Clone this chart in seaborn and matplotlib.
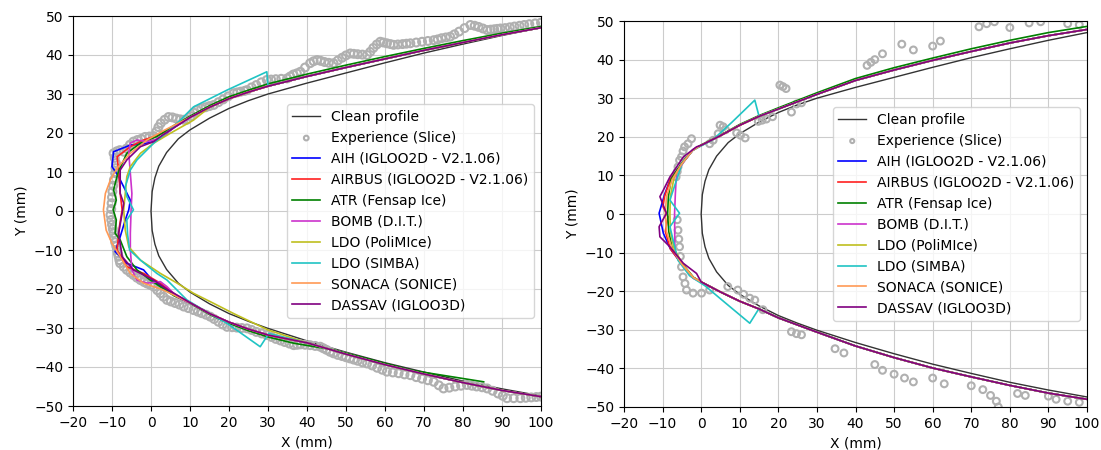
import matplotlib
matplotlib.use("Agg")
import matplotlib.pyplot as plt
import seaborn as sns

# clean airfoil leading edge, upper half (from trailing side to the nose) and lower half
clean_up_x = [100, 90, 80, 70, 60, 50, 40, 30, 25, 20, 15, 10, 7, 4, 2, 1, 0.3, 0]
clean_up_y = [47, 45, 42.8, 40.5, 38, 35.4, 32.8, 30, 28.3, 26.3, 23.8, 20.8, 18.5, 15, 11.5, 8.5, 5, 0]
clean_lo_x = [0.3, 1, 2, 4, 7, 10, 15, 20, 25, 30, 40, 50, 60, 70, 80, 90, 100]
clean_lo_y = [-5, -8.5, -11.5, -15, -18.5, -20.8, -23.8, -26.3, -28.3, -30.1, -33.3, -36.2, -38.9,
              -41.3, -43.6, -45.6, -47.4]

labels = ["AIH (IGLOO2D - V2.1.06)", "AIRBUS (IGLOO2D - V2.1.06)", "ATR (Fensap Ice)",
          "BOMB (D.I.T.)", "LDO (PoliMIce)", "LDO (SIMBA)", "SONACA (SONICE)", "DASSAV (IGLOO3D)"]
colors = ["#0000ff", "#ff2020", "#008000", "#cc33cc", "#bfbf1f", "#20c4c4", "#ff9955", "#800080"]

# ---- case 1 (left): experimental slice ----
exp1_up_x = [-10.2, -10.1, -10, -9.9, -9.7, -9.5, -9.2, -9.1, -9.0, -9.3, -9.6, -8.8, -8, -7, -6.3,
             -5.4, -4.5, -3.5, -2.5, -1.5, -0.4, 0.7, 1.4, 1.9, 2.5, 3.5, 4.5, 5.5, 6.5, 7.5, 8.4, 9.2,
             10.2, 11, 11.8, 12.9, 14, 15, 16.1, 17.3, 18.5, 19.8, 21.2, 22.1, 23, 24, 24.6, 25.8, 27,
             28.3, 29.7, 30.8, 32, 33.4, 34.9, 35.7, 36.5, 37.4, 38.3, 39.5, 40.8, 41.7, 42.6, 43.5,
             44.5, 45.6, 46.8, 47.9, 49, 50, 51.1, 52, 53, 54.2, 55.4, 56.2, 57, 57.9, 58.8, 59.6, 60.5,
             61.4, 62.2, 63.3, 64.5, 65.5, 66.5, 68, 69.5, 71, 72.5, 73.5, 74.5, 75.6, 76.7, 77.8, 79,
             80.4, 81.9, 83, 84, 85.1, 86.2, 87.1, 88, 88.8, 89.6, 90.8, 92, 93.2, 94.5, 95.7, 97, 98.5,
             100]
exp1_up_y = [0.5, 2, 3.5, 5, 6.5, 8, 9.7, 11, 12.3, 13.6, 14.8, 15.3, 15.6, 15.2, 16, 17, 17.8, 18.2,
             18.5, 19, 19.1, 19.2, 20.4, 21.5, 22.5, 23.4, 24.1, 24, 23.7, 23.5, 23.4, 23.4, 24.3, 25.2,
             25.9, 26.3, 26.6, 26.9, 27.2, 27.9, 28.6, 29.4, 30.2, 30.4, 30.6, 30.8, 31.0, 31.7, 32.3,
             33, 33.6, 33.7, 33.8, 33.9, 34.0, 34.5, 35, 35.3, 35.7, 36.8, 37.9, 38.4, 38.7, 38.5, 38.2,
             38, 37.9, 38.6, 39.3, 39.9, 40.4, 40.3, 40.2, 40.1, 40.0, 40.8, 41.8, 42.7, 43.4, 43.2, 43,
             42.8, 42.6, 42.7, 42.8, 42.9, 43.0, 43.2, 43.4, 43.6, 43.8, 44, 44.3, 44.5, 44.7, 45.3, 46,
             46.9, 47.7, 47.5, 47.2, 46.8, 46.4, 46.5, 46.6, 46.7, 46.8, 46.9, 47.1, 47.3, 47.5, 47.7,
             47.9, 48.1, 48.3]
exp1_lo_x = [-10.4, -10.2, -10, -9.8, -9.6, -9.4, -9.2, -8.9, -8.7, -8.5, -8.3, -8.1, -7.9, -7, -6.2,
             -5.3, -4.5, -3.6, -2.7, -1.8, -1, -0.1, 0.7, 1.6, 2.4, 3.2, 4.1, 5.1, 6.2, 7.3, 8.4, 9.6,
             10.9, 12, 13, 14.1, 15.2, 16.2, 17.3, 18.4, 19.5, 20.8, 22, 23.3, 24.6, 25.8, 27, 28.4,
             29.7, 30.9, 32, 33.2, 34.3, 35.5, 36.6, 37.5, 38.3, 39.5, 40.8, 42.1, 43.4, 44.2, 45, 45.9,
             46.8, 47.9, 49, 50, 51, 52, 53, 54.2, 55.4, 56.7, 58, 59.3, 60.5, 62, 63.5, 65, 66.5, 68,
             69.5, 71, 72.5, 73.8, 75.0, 76.5, 78, 79.5, 81.0, 82.3, 83.5, 84.9, 86.2, 87.6, 89, 90.2,
             91.3, 93, 94.7, 96.1, 97.5, 98.8, 100]
exp1_lo_y = [-1, -2.3, -3.5, -4.6, -5.7, -6.9, -8, -9, -10.0, -10.9, -11.7, -12.6, -13.4, -14.3, -15.1,
             -15.8, -16.4, -17.1, -17.7, -18.2, -18.6, -19, -19.4, -20.3, -21.1, -22, -22.8, -23.2,
             -23.6, -24, -24.5, -24.9, -25.4, -25.8, -26.2, -26.6, -27.1, -27.7, -28.4, -29.1, -29.7,
             -29.8, -29.9, -30, -30.1, -30.5, -31, -31.4, -31.8, -32.3, -32.8, -33.2, -33.6, -34, -34.4,
             -34.3, -34.2, -34.3, -34.4, -34.6, -34.8, -35.2, -35.6, -36.1, -36.5, -36.9, -37.2, -37.5,
             -37.8, -38.1, -38.4, -38.8, -39.1, -39.6, -40.2, -40.7, -41.2, -41.4, -41.6, -41.9, -42.1,
             -42.6, -43, -43.4, -43.8, -44.7, -45.5, -45.3, -45, -44.8, -44.6, -44.8, -45, -45.2, -45.5,
             -46.1, -46.8, -47.4, -48.0, -48.0, -48.0, -47.9, -47.8, -47.7, -47.6]

# ---- case 1: ice shapes (aft parts shared, noses per code) ----
up1_x = [100, 90, 80, 70, 60, 50, 40, 30, 25, 20, 15, 10]
up1_y = [47, 45.2, 43.2, 41.2, 39, 36.8, 34.5, 32, 30.5, 28.8, 26.6, 24]
low1_x = [10, 15, 20, 25, 30, 40, 50, 60, 70, 80, 90, 100]
low1_y = [-23.5, -26.3, -28.5, -30.3, -31.8, -33.8, -36.7, -39.4, -41.8, -44, -46, -47.6]
atr_up1_y = [47.3, 45.6, 43.7, 41.7, 39.6, 37.4, 35.1, 32.6, 31, 29.3, 27, 24.3]
atr_low1_x = [10, 15, 20, 25, 30, 36.6, 46.8, 66.5, 85.3]
atr_low1_y = [-23.6, -26.5, -28.8, -30.7, -32.3, -33.9, -35.6, -40.8, -43.8]

nose1_x = [
    [6, 2.4, 0.7, -2, -5.3, -9.6, -10, -8.3, -7.9, -5.3, -5.7, -6.6, -7.9, -9.2, -6.2, -1.9, 0.3, 3, 6],
    [6, 2, -1.9, -5.3, -8.7, -8.3, -7.9, -7.4, -8.1, -8.7, -6.2, -1.9, 2.4, 6],
    [6, 1.5, -2.7, -6.2, -8.5, -9.6, -8.9, -9.7, -8.9, -9.2, -7.9, -6.2, -3.6, -0.2, 3, 6],
    [6, 2.4, -1.0, -3.6, -5.3, -5.7, -5.3, -4.9, -5.1, -5.3, -5.3, -4.9, -3.6, -1.0, 2.4, 4.1, 6.7, 9],
    [10.9, 4.9, 0.7, -2.7, -5.3, -6.2, -6.6, -7.0, -6.6, -5.7, -2.7, 2.4, 6.7, 10.9, 16.1, 21.2, 30],
    [29.7, 19.5, 10.9, 5.8, 0.7, -3.6, -5.3, -6.6, -6.2, -4.5, -6.2, -6.0, -5.5, -2.7, 1.5, 4.1, 9.2,
     13.5, 19.5, 28.0, 30.2],
    [3, -1.0, -5.3, -8.7, -10.4, -11.7, -12.2, -11.5, -10.0, -7.9, -5.3, -1.9, 3],
    [3, 0.7, -2.7, -6.2, -7.9, -7.9, -7.0, -7.4, -8.3, -7.4, -4.5, 0.7, 4],
]
nose1_y = [
    [21.5, 18.6, 17.8, 17.2, 16.9, 15.2, 11.4, 8.8, 8.0, 2.8, 0.3, -2.3, -6.6, -10.4, -13.4, -15.1, -17.7, -19.5, -21.5],
    [21.5, 19.5, 18.2, 16.5, 13.9, 10.5, 4.5, 0.3, -4.0, -10.0, -14.3, -16.0, -18.5, -21.3],
    [22, 19.1, 17.4, 14.8, 9.7, 5.4, 2.8, 0.3, -2.3, -5.7, -7.4, -11.7, -15.1, -17.7, -19.8, -21.8],
    [21.5, 18.6, 17.8, 18.2, 17.4, 14.8, 9.7, 4.5, 0.3, -5.7, -10.0, -15.1, -17.7, -18.5, -18.1, -19.4, -22.0, -23.2],
    [23.3, 19.9, 17.4, 14.8, 11.4, 8.8, 4.5, 0.3, -4.9, -9.2, -12.6, -16.0, -18.5, -21.1, -23.7, -26.3, -30.5],
    [35.7, 31.0, 26.7, 21.6, 17.4, 13.1, 10.5, 6.2, 3.7, 0.3, -2.3, -6, -10, -12.6, -16.0, -17.7, -22.8,
     -25.4, -28.8, -34.8, -31.4],
    [20.5, 18.2, 14.8, 11.0, 8.0, 4.5, 0.3, -4.9, -8.3, -11.7, -16.0, -18.5, -20.2],
    [19.5, 17.8, 16.5, 13.1, 10.5, 4.5, 2.0, -0.6, -5.7, -11.7, -15.1, -17.7, -20],
]

# ---- case 2 (right): experimental slice ----
exp2_up_x = [-6.5, -6.2, -6.0, -5.6, -5.1, -4.7, -4.3, -3.4, -2.5, 2.2, 3.1, 4.4, 4.9, 5.7, 6.3, 9.2,
             10.2, 11.4, 14.8, 15.8, 16.9, 18.5, 20.4, 21.2, 22, 23.4, 24.7, 26, 43, 44, 45, 47, 52, 55,
             60, 62, 72, 74, 76, 80, 85, 88, 95, 98]
exp2_up_y = [9.6, 11, 12.2, 13.9, 14.8, 16.3, 17.4, 18.2, 19.5, 18.2, 19.1, 20.8, 23.0, 22.6, 21.8,
             21.0, 20.4, 19.7, 24.0, 24.3, 24.6, 25.2, 33.4, 33, 32.5, 26.4, 28.5, 28.8, 38.5, 39.3, 40,
             41.5, 44, 42.5, 43.5, 44.8, 48.5, 49.3, 49.8, 48.3, 49.5, 49.8, 49.3, 49]
exp2_lo_x = [-6.2, -6.0, -5.8, -5.6, -5.4, -5.1, -4.7, -4.2, -3.8, -2.1, 0.1, 2.2, 6.9, 9.5, 11, 12.6,
             13.9, 16.0, 23.4, 24.7, 26.0, 34.7, 37, 45, 47, 50, 52.7, 55, 60, 63, 70, 73, 75, 76.5, 77,
             82, 84, 90, 92, 95, 98]
exp2_lo_y = [-1.5, -4.2, -6.5, -8.5, -11, -13.7, -16.3, -18, -19.7, -20.5, -20.5, -19.7, -18.8, -19.7,
             -20.8, -21.8, -22.3, -24.8, -30.5, -31, -31.3, -34.9, -36, -39, -40.5, -41.5, -42.5, -43.5,
             -42.5, -44, -44.5, -45.5, -47, -48.5, -50, -46.5, -47, -47.2, -48, -48.5, -48.8]

# ---- case 2: ice shapes ----
up2_x = [100, 90, 80, 70, 60, 50, 40, 30, 20, 15, 10, 5, 0]
up2_y = [47.8, 46.2, 44.3, 42.1, 39.8, 37.3, 34.6, 31, 27.2, 25.3, 23, 20.3, 17.8]
low2_x = [0, 5, 10, 15, 20, 30, 40, 50, 60, 70, 80, 90, 100]
low2_y = [-17.6, -20.2, -22.6, -24.6, -26.9, -30.6, -34.2, -37.2, -39.9, -42.2, -44.4, -46.4, -48]
atr_up2_y = [48.6, 47, 45, 42.8, 40.4, 37.9, 35.1, 31.4, 27.5, 25.5, 23.2, 20.4, 17.9]

nose2_x = [
    [-2.2, -5, -8, -9.5, -10.9, -9.8, -8, -5, -2],
    [-2.2, -5, -8, -9.5, -9.9, -8.6, -9.3, -8, -5, -2],
    [-2.2, -5, -7.8, -8.5, -8.7, -8.4, -7.5, -4.8, -2],
    [-2, -4.5, -6.4, -6.7, -6.9, -6.8, -4.5, -2],
    [-2.2, -5, -7, -8, -8.1, -8, -7, -4.8, -2],
    [13.9, 8, 3, -2.2, -5, -8.1, -5.6, -8.1, -6, -3, 1, 6, 12.6, 14.8],
    [-2.2, -5, -7.5, -9, -9.3, -9, -7.5, -5, -2],
    [-1.2, -4.6, -8.1, -9.8, -10.7, -9.0, -10.9, -10.7, -8.1, -4.6, -1.2],
]
nose2_y = [
    [16.5, 13, 9, 5, 0.2, -5, -9, -13, -16.5],
    [16.5, 13, 9, 4.5, 1.9, -0.7, -4.5, -9, -13, -16.5],
    [16.6, 13.2, 9, 4.5, 0, -4.5, -9, -13, -16.4],
    [16.8, 13.5, 10.5, 5, 0, -10.2, -13.5, -16.7],
    [16.5, 13, 9.5, 4.5, 0, -4.5, -9, -13, -16.5],
    [29.5, 23.8, 19.2, 16.5, 13, 3.6, 0.2, -3.3, -12, -16, -18.6, -22.8, -28.3, -24.8],
    [16.5, 13, 9, 4.5, 0, -4.5, -9, -13, -16.5],
    [17.4, 14.8, 9.6, 6.2, 4.5, 0.2, -3.3, -5.9, -8.5, -12.8, -15.4],
]


def join(nx, ny, ux, uy, lx, ly):
    # upper tail (aft part beyond the nose), nose, lower tail
    xs = [a for a in ux if a > nx[0]]
    ys = [b for a, b in zip(ux, uy) if a > nx[0]]
    xs2 = [a for a in lx if a > nx[-1]]
    ys2 = [b for a, b in zip(lx, ly) if a > nx[-1]]
    return xs + nx + xs2, ys + ny + ys2


fig = plt.figure(figsize=(11.01, 4.5), dpi=100)
ax1 = fig.add_axes([73 / 1101, 1 - 406 / 450, 468 / 1101, 390 / 450])
ax2 = fig.add_axes([624 / 1101, 1 - 407 / 450, 463 / 1101, 386 / 450])

cx = clean_up_x + clean_lo_x
cy = clean_up_y + clean_lo_y

cases = [
    (ax1, exp1_up_x + exp1_lo_x, exp1_up_y + exp1_lo_y, nose1_x, nose1_y,
     up1_x, up1_y, atr_up1_y, low1_x, low1_y, atr_low1_x, atr_low1_y, 32),
    (ax2, exp2_up_x + exp2_lo_x, exp2_up_y + exp2_lo_y, nose2_x, nose2_y,
     up2_x, up2_y, atr_up2_y, low2_x, low2_y, low2_x, low2_y, 24),
]
for ax, ex, ey, nxs, nys, ux, uy, auy, lx, ly, alx, aly, msize in cases:
    ax.grid(True, color="#cccccc", lw=0.8, zorder=0)
    ax.set_axisbelow(True)
    sns.lineplot(x=cx, y=cy, sort=False, estimator=None, color="#333333", lw=1,
                 label="Clean profile", ax=ax)
    sns.scatterplot(x=ex, y=ey, marker="o", s=msize, facecolors="none", edgecolor="#b0b0b0",
                    linewidth=1.5, label="Experience (Slice)", ax=ax, zorder=2)
    for i in range(len(labels)):
        if i == 2:
            xs, ys = join(nxs[i], nys[i], ux, auy, alx, aly)
        else:
            xs, ys = join(nxs[i], nys[i], ux, uy, lx, ly)
        sns.lineplot(x=xs, y=ys, sort=False, estimator=None, color=colors[i], lw=1.2,
                     label=labels[i], ax=ax, zorder=3)
    ax.set_xlim(-20, 100)
    ax.set_ylim(-50, 50)
    ax.set_xticks(range(-20, 101, 10))
    ax.set_yticks(range(-50, 51, 10))
    ax.set_xlabel("X (mm)")
    ax.set_ylabel("Y (mm)")
    ax.legend(loc="center right", fontsize=10, markerscale=0.6)

fig.savefig("out.png", dpi=100)
